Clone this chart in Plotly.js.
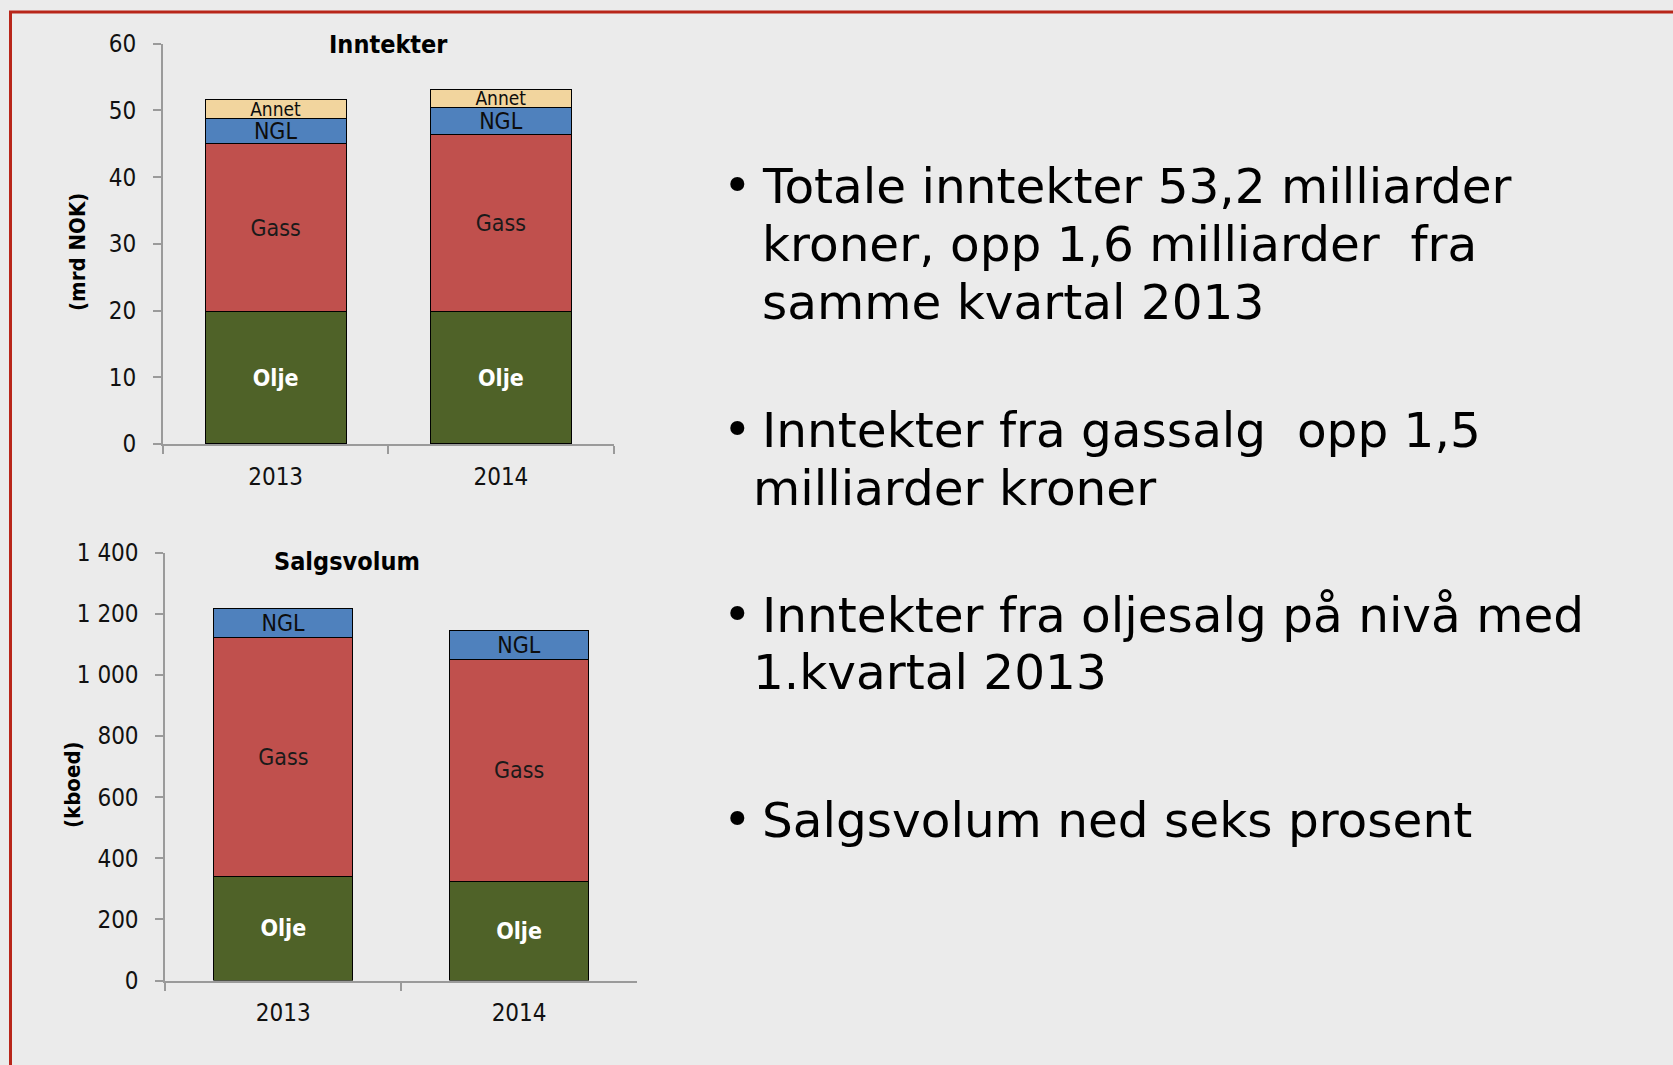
<!DOCTYPE html>
<html>
<head>
<meta charset="utf-8">
<script src="https://cdn.plot.ly/plotly-3.0.1.min.js"></script>
<style>html,body{margin:0;padding:0;background:#EBEBEB;}#chart{width:1673px;height:1065px;}</style>
</head>
<body>
<div id="chart"></div>
<script>
// ---- data ----
const years = ['2013', '2014'];
// Inntekter (mrd NOK)
const revOlje  = [19.9, 19.8];
const revGass  = [25.1, 26.6];
const revNGL   = [3.8, 4.0];
const revAnnet = [2.8, 2.8];
// Salgsvolum (kboed)
const volOlje = [342, 325];
const volGass = [782, 726];
const volNGL  = [95, 94];
const revTicks = [0, 10, 20, 30, 40, 50, 60];
const volTicks = [0, 200, 400, 600, 800, 1000, 1200, 1400];
const bullets = [
  ['Totale inntekter 53,2 milliarder', 'kroner, opp 1,6 milliarder  fra', 'samme kvartal 2013'],
  ['Inntekter fra gassalg  opp 1,5', 'milliarder kroner'],
  ['Inntekter fra oljesalg på nivå med', '1.kvartal 2013'],
  ['Salgsvolum ned seks prosent']
];

// ---- style ----
const W = 1673, H = 1065;
const px = v => v / W;
const py = v => 1 - v / H;
const FONT = 'DejaVu Sans Condensed, DejaVu Sans, sans-serif';
const C = {olje: '#4F6228', gass: '#C0504D', ngl: '#4F81BD', annet: '#F2D59E'};
const line = {color: '#000000', width: 1};

function seg(name, xs, ys, color, txtColor, size, bold, xa, ya, w) {
  return {
    type: 'bar', name: name, x: xs, y: ys, xaxis: xa, yaxis: ya, width: w,
    marker: {color: color, line: line},
    text: ys.map(() => bold ? '<b>' + name + '</b>' : name),
    textposition: 'inside', insidetextanchor: 'middle', constraintext: 'none',
    textfont: {family: FONT, size: size, color: txtColor},
    hoverinfo: 'skip', showlegend: false, cliponaxis: false
  };
}

const data = [
  seg('Olje', years, revOlje, C.olje, '#FFFFFF', 23, true, 'x', 'y', 0.627),
  seg('Gass', years, revGass, C.gass, '#1a1a1a', 23, false, 'x', 'y', 0.627),
  seg('NGL', years, revNGL, C.ngl, '#0d0d0d', 23, false, 'x', 'y', 0.627),
  seg('Annet', years, revAnnet, C.annet, '#0d0d0d', 19, false, 'x', 'y', 0.627),
  seg('Olje', years, volOlje, C.olje, '#FFFFFF', 23, true, 'x2', 'y2', 0.59),
  seg('Gass', years, volGass, C.gass, '#1a1a1a', 23, false, 'x2', 'y2', 0.59),
  seg('NGL', years, volNGL, C.ngl, '#0d0d0d', 23, false, 'x2', 'y2', 0.59)
];

const axisCommon = {
  showline: true, linecolor: '#9a9a9a', linewidth: 2, showgrid: false, zeroline: false,
  ticks: 'outside', ticklen: 8, tickwidth: 2, tickcolor: '#9a9a9a',
  tickfont: {family: FONT, size: 24, color: '#111111'}, fixedrange: true
};

const annotations = [];
function ann(text, x, y, opts) {
  annotations.push(Object.assign({
    text: text, x: px(x), y: py(y), xref: 'paper', yref: 'paper',
    showarrow: false, xanchor: 'center', yanchor: 'middle',
    font: {family: FONT, size: 22, color: '#000000'}
  }, opts || {}));
}
ann('<b>Inntekter</b>', 388, 45, {font: {family: FONT, size: 25, color: '#000'}});
ann('<b>Salgsvolum</b>', 347, 561, {font: {family: FONT, size: 25, color: '#000'}});
ann('<b>(mrd NOK)</b>', 77, 252, {textangle: -90, font: {family: FONT, size: 22, color: '#000'}});
ann('<b>(kboed)</b>', 72, 785, {textangle: -90, font: {family: FONT, size: 22, color: '#000'}});

const BFONT = {family: 'DejaVu Sans, sans-serif', size: 48.5, color: '#000000'};
const lineY = [[186.7, 245.4, 303], [431.1, 488.7], [615.7, 673.3], [820.5]];
const lineX = [[760, 760, 760], [760, 751], [760, 751], [760]];
bullets.forEach((lines, i) => {
  ann('•', 737, lineY[i][0] - 2, {font: BFONT});
  lines.forEach((t, j) => {
    ann(t, lineX[i][j], lineY[i][j] - 1, {xanchor: 'left', font: BFONT});
  });
});

const layout = {
  width: W, height: H, margin: {l: 0, r: 0, t: 0, b: 0, pad: 0},
  paper_bgcolor: '#EBEBEB', plot_bgcolor: 'rgba(0,0,0,0)',
  barmode: 'stack', separators: ', ', showlegend: false,
  xaxis: Object.assign({}, axisCommon, {
    domain: [px(163), px(613.5)], type: 'category', range: [-0.5, 1.5],
    tickson: 'boundaries', ticklabelstandoff: 10, anchor: 'y'
  }),
  yaxis: Object.assign({}, axisCommon, {
    domain: [py(444), py(43.7)], range: [0, 60], tickvals: revTicks,
    ticklabelstandoff: 12, anchor: 'x'
  }),
  xaxis2: Object.assign({}, axisCommon, {
    domain: [px(165.4), px(637)], type: 'category', range: [-0.5, 1.5],
    tickson: 'boundaries', ticklabelstandoff: 10, anchor: 'y2'
  }),
  yaxis2: Object.assign({}, axisCommon, {
    domain: [py(980.6), py(552.7)], range: [0, 1400], tickvals: volTicks,
    tickformat: ',d', ticklabelstandoff: 12, anchor: 'x2'
  }),
  annotations: annotations,
  shapes: [{
    type: 'rect', xref: 'paper', yref: 'paper',
    x0: px(10.5), x1: 1.05, y0: py(12), y1: -0.05,
    line: {color: '#B8261A', width: 3}, fillcolor: 'rgba(0,0,0,0)', layer: 'above'
  }]
};

Plotly.newPlot('chart', data, layout, {displayModeBar: false, staticPlot: true});
</script>
</body>
</html>
